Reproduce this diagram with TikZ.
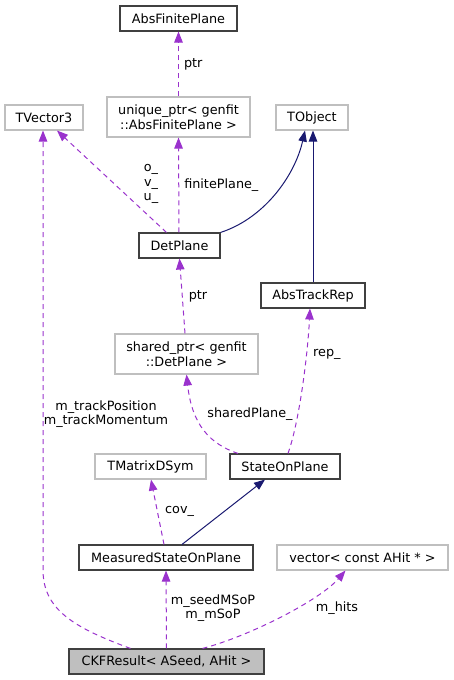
\documentclass[tikz,border=0pt]{standalone}
\usepackage{fontspec}
\setmainfont{DejaVu Sans}
\usetikzlibrary{arrows.meta}
\definecolor{edgepurple}{HTML}{9A32CD}
\definecolor{inhnavy}{HTML}{191970}
\definecolor{boxgrey}{HTML}{BFBFBF}
\definecolor{boxdark}{HTML}{404040}

\begin{document}
\begin{tikzpicture}[
        x=1pt, y=-1pt,
        every node/.style={font=\fontsize{12.8}{14.5}\selectfont, text=black, inner sep=0pt, align=center},
        cls/.style={draw=boxdark, line width=1.1pt, minimum height=25pt},
        ext/.style={draw=boxgrey, line width=1.1pt, minimum height=25pt},
        member/.style={edgepurple, line width=1pt, dash pattern=on 5pt off 4pt, -{Triangle[length=11pt, width=8.5pt]}},
        inherit/.style={inhnavy, line width=1pt, -{Triangle[length=11pt, width=8.5pt]}}
    ]
    \useasboundingbox (0,0) rectangle (453,680);

    % Nodes
    \node [cls, minimum width=117pt] (afp) at (178.5,18.5) {AbsFinitePlane};
    \node [ext, minimum width=78pt] (tvec) at (44,117.5) {TVector3};
    \node [ext, minimum width=143pt, minimum height=40pt] (uptr) at (178.5,117) {unique\_ptr< genfit\\::AbsFinitePlane >};
    \node [ext, minimum width=72pt] (tobj) at (312,117.5) {TObject};
    \node [cls, minimum width=81pt] (det) at (179.5,245.5) {DetPlane};
    \node [cls, minimum width=104pt] (atr) at (313,295.5) {AbsTrackRep};
    \node [ext, minimum width=143pt, minimum height=40pt] (sptr) at (186.5,354) {shared\_ptr< genfit\\::DetPlane >};
    \node [ext, minimum width=111pt] (tmat) at (150.5,466.5) {TMatrixDSym};
    \node [cls, minimum width=110pt] (sop) at (285,466.5) {StateOnPlane};
    \node [cls, minimum width=174pt] (msop) at (166,557.5) {MeasuredStateOnPlane};
    \node [ext, minimum width=171pt] (vec) at (362.5,557.5) {vector< const AHit * >};
    \node [cls, fill=boxgrey, minimum width=195pt] (ckf) at (166.5,661.5) {CKFResult< ASeed, AHit >};

    % Member arrows
    \draw[member] (uptr.north) -- node[right=5pt] {ptr} (afp.south);
    \draw[member] ([xshift=-0.5pt]det.north) -- node[right=5pt] {finitePlane\_} (uptr.south);
    \draw[member] ([xshift=-13pt]det.north) -- ([xshift=13pt]tvec.south);
    \node (ovu) at (151,184) {o\_\\v\_\\u\_};
    \draw[member] ([xshift=-1.5pt]sptr.north) -- node[right=6pt] {ptr} (det.south);
    \draw[member] ([xshift=-47pt]sop.north) .. controls (210,444) and (192,425) .. (sptr.south);
    \node (lshared) at (250,414) {sharedPlane\_};
    \draw[member] ([xshift=3pt]sop.north) .. controls (300,420) and (308,350) .. ([xshift=-3pt]atr.south);
    \node [anchor=west] (lrep) at (313,354) {rep\_};
    \draw[member] ([xshift=-2pt]msop.north) -- ([xshift=0.5pt]tmat.south);
    \node [anchor=west] (lcov) at (165,511) {cov\_};
    \draw[member] (ckf.north) -- (msop.south);
    \node (lmsop) at (213,608) {m\_seedMSoP\\m\_mSoP};
    \draw[member] ([xshift=36pt]ckf.north) .. controls (250,636) and (320,600) .. ([xshift=-17pt]vec.south);
    \node (lhits) at (337,608) {m\_hits};
    \draw[member] ([xshift=-36pt]ckf.north) .. controls (75,628) and (43,610) .. (43,570) -- ([xshift=-1pt]tvec.south);
    \node (ltrack) at (106,414) {m\_trackPosition\\m\_trackMomentum};

    % Inheritance arrows
    \draw[inherit] (det.north east) .. controls (265,218) and (295,175) .. ([xshift=-7pt]tobj.south);
    \draw[inherit] (atr.north) -- (atr.north |- tobj.south);
    \draw[inherit] ([xshift=16pt]msop.north) -- ([xshift=-20pt]sop.south);

\end{tikzpicture}
\end{document}
